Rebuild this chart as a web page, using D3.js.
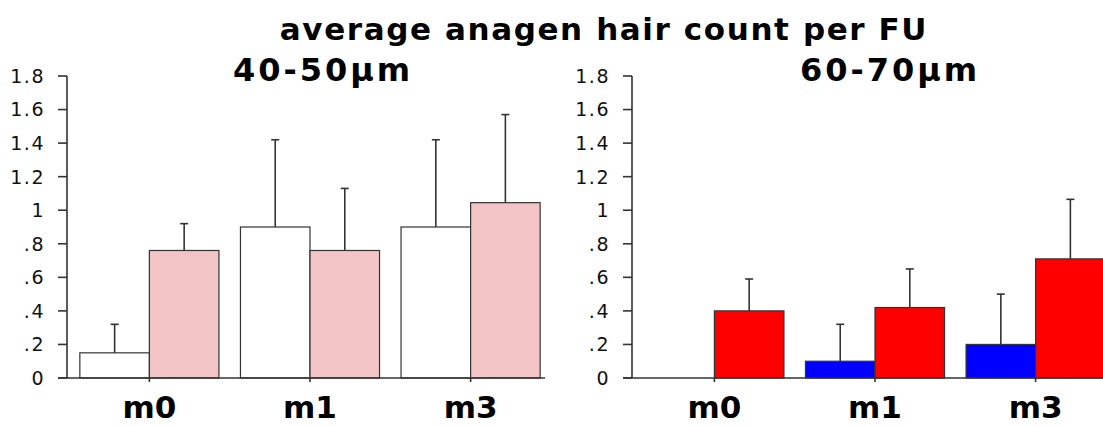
<!DOCTYPE html>
<html><head><meta charset="utf-8">
<script src="https://cdn.jsdelivr.net/npm/d3@7/dist/d3.min.js"></script>
<style>html,body{margin:0;padding:0;background:#fff;overflow:hidden}</style>
</head><body>
<svg id="chart" width="1103" height="426"></svg>
<script>
const title = "average anagen hair count per FU";
const categories = ["m0", "m1", "m3"];
const panelTitles = ["40-50µm", "60-70µm"];
// panel 1 (40-50µm)
const p1Before = [0.15, 0.90, 0.90];
const p1BeforeErr = [0.32, 1.42, 1.42];
const p1After = [0.76, 0.76, 1.045];
const p1AfterErr = [0.92, 1.13, 1.57];
// panel 2 (60-70µm)
const p2Before = [0.0, 0.10, 0.20];
const p2BeforeErr = [null, 0.32, 0.50];
const p2After = [0.40, 0.42, 0.71];
const p2AfterErr = [0.59, 0.65, 1.065];
const yTicks = [0, 0.2, 0.4, 0.6, 0.8, 1.0, 1.2, 1.4, 1.6, 1.8];
const yTickLabels = ["0", ".2", ".4", ".6", ".8", "1", "1.2", "1.4", "1.6", "1.8"];

const panels = [
  {x0: 67, title: panelTitles[0], before: p1Before, beforeErr: p1BeforeErr, after: p1After, afterErr: p1AfterErr,
   colors: ["#ffffff", "#f2c4c6"], axisStart: 58, axisEnd: 545, titleX: 323},
  {x0: 632, title: panelTitles[1], before: p2Before, beforeErr: p2BeforeErr, after: p2After, afterErr: p2AfterErr,
   colors: ["#0000ff", "#ff0000"], axisStart: 623, axisEnd: 1110, titleX: 890}
];

const svg = d3.select("#chart");
const y = d3.scaleLinear().domain([0, 1.8]).range([378, 76]);
const stroke = "#333";

svg.append("text").attr("x", 604).attr("y", 40).attr("text-anchor", "middle")
  .attr("font-family", "DejaVu Sans").attr("font-weight", "bold").attr("font-size", 31)
  .attr("letter-spacing", 1.6)
  .text(title);

panels.forEach(p => {
  const g = svg.append("g");
  const x = d3.scaleBand().domain(categories).range([p.x0, p.x0 + 486]).paddingInner(0.134).paddingOuter(0.08);
  const bw = x.bandwidth() / 2;

  g.append("text").attr("x", p.titleX).attr("y", 81).attr("text-anchor", "middle")
    .attr("font-family", "DejaVu Sans").attr("font-weight", "bold").attr("font-size", 32)
    .attr("letter-spacing", 3)
    .text(p.title);

  const series = [
    {vals: p.before, errs: p.beforeErr, color: p.colors[0], off: 0},
    {vals: p.after, errs: p.afterErr, color: p.colors[1], off: bw}
  ];
  series.forEach(s => {
    categories.forEach((c, i) => {
      if (s.errs[i] == null) return;
      const cx = x(c) + s.off + bw / 2;
      g.append("line").attr("x1", cx).attr("x2", cx).attr("y1", y(s.vals[i])).attr("y2", y(s.errs[i]))
        .attr("stroke", stroke).attr("stroke-width", 1.6);
      g.append("line").attr("x1", cx - 4).attr("x2", cx + 4).attr("y1", y(s.errs[i])).attr("y2", y(s.errs[i]))
        .attr("stroke", stroke).attr("stroke-width", 1.6);
    });
    g.selectAll(null).data(categories).enter().append("rect")
      .attr("x", c => x(c) + s.off)
      .attr("y", (c, i) => y(s.vals[i]))
      .attr("width", bw)
      .attr("height", (c, i) => y(0) - y(s.vals[i]))
      .attr("fill", s.color)
      .attr("stroke", (c, i) => s.vals[i] > 0 ? stroke : "none")
      .attr("stroke-width", 1.2);
  });

  // y axis
  g.append("line").attr("x1", p.x0).attr("x2", p.x0).attr("y1", y(1.8)).attr("y2", y(0))
    .attr("stroke", stroke).attr("stroke-width", 1.6);
  yTicks.forEach((t, i) => {
    g.append("line").attr("x1", p.x0 - 9).attr("x2", p.x0).attr("y1", y(t)).attr("y2", y(t))
      .attr("stroke", stroke).attr("stroke-width", 1.6);
    g.append("text").attr("x", p.x0 - 22).attr("y", y(t)).attr("dy", "0.36em")
      .attr("text-anchor", "end").attr("font-family", "DejaVu Sans").attr("font-size", 19)
      .attr("letter-spacing", 1.5)
      .attr("fill", "#111").text(yTickLabels[i]);
  });
  // x axis
  g.append("line").attr("x1", p.axisStart).attr("x2", p.axisEnd).attr("y1", y(0)).attr("y2", y(0))
    .attr("stroke", stroke).attr("stroke-width", 1.6);
  categories.forEach(c => {
    const cx = x(c) + x.bandwidth() / 2;
    g.append("line").attr("x1", cx).attr("x2", cx).attr("y1", y(0)).attr("y2", y(0) + 4)
      .attr("stroke", stroke).attr("stroke-width", 1.6);
    g.append("text").attr("x", cx).attr("y", 418).attr("text-anchor", "middle")
      .attr("font-family", "DejaVu Sans").attr("font-weight", "bold").attr("font-size", 31)
      .text(c);
  });
});
</script>
</body></html>
